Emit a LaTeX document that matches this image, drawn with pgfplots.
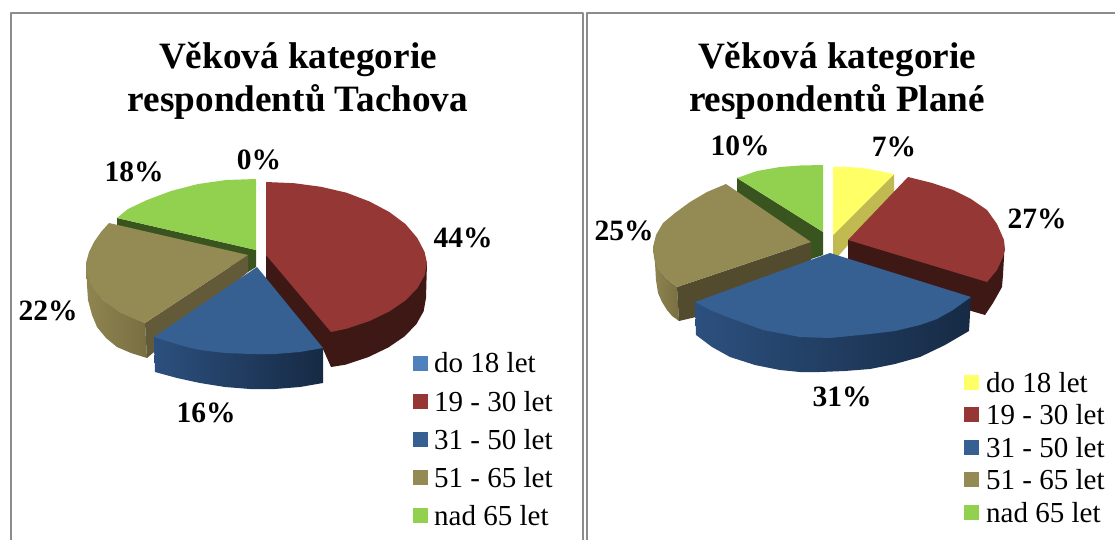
\documentclass[border=0pt]{standalone}
\usepackage{fontspec}
\setmainfont{Liberation Serif}
\usepackage{pgfplots}
\pgfplotsset{compat=1.18}
\definecolor{gT}{HTML}{92D050}\definecolor{gW}{HTML}{3A5420}
\definecolor{tT}{HTML}{948A54}\definecolor{tWa}{HTML}{625A38}\definecolor{tWb}{HTML}{534B2D}
\definecolor{tSa}{HTML}{8F8550}\definecolor{tSb}{HTML}{786E42}
\definecolor{bT}{HTML}{366092}\definecolor{bSa}{HTML}{2C507E}\definecolor{bSb}{HTML}{162A44}
\definecolor{rT}{HTML}{953735}\definecolor{rW}{HTML}{3E1815}
\definecolor{yT}{HTML}{FFFF66}\definecolor{yW}{HTML}{C0BA50}
\definecolor{bL}{HTML}{4F81BD}\definecolor{frm}{HTML}{8C8C8C}
\newcommand{\ttl}{\fontsize{37.2pt}{43pt}\selectfont\bfseries}
\newcommand{\lab}{\fontsize{29.5pt}{31pt}\selectfont\bfseries}
\newcommand{\leg}{\fontsize{29pt}{31pt}\selectfont}
\begin{document}
\begin{tikzpicture}
\begin{axis}[scale only axis,width=1115pt,height=540pt,xmin=0,xmax=1115,ymin=0,ymax=540,y dir=reverse,
  hide axis,
  every axis plot/.append style={draw=none,mark=none,line join=round}]
% keeps the page at the full extent of the axis
\addplot[draw=none] coordinates {(0,0)(1115,540)};
% frames
\addplot[draw=frm,line width=2pt] coordinates {(11,540)(11,13)(583,13)(583,540)};
\addplot[draw=frm,line width=2pt] coordinates {(587,540)(587,13)(1115,13)};
%%% LEFT PIE
\addplot[fill=gW] coordinates {(117,218)(256,250)(256,267)(248,272)(117,235)} --cycle;
\addplot[fill=gT] coordinates {(256,250)(256,179)(226,180)(198,184)(171,191)(147,200)(128,209)(117,218)} --cycle;
\addplot[shade,left color=tSa,right color=tSb] coordinates {(86,263)(87,285)(88,300)(92,315)(97,327)(106,338)(117,347)(131,353)(147,358)(145,323)(120,312)(102,299)} --cycle;
\addplot[fill=tWa] coordinates {(248,255)(248,272)(147,358)(145,323)} --cycle;
\addplot[fill=tT] coordinates {(248,255)(109,223)(101,232)(94,242)(89,252)(86,263)(87,272)(90,282)(95,291)(102,299)(111,306)(120,312)(132,318)(145,323)} --cycle;
\addplot[fill=rW] coordinates {(266,255)(427,262)(426,298)(423.6,311.4)(416.3,324.3)(404.4,336.5)(388.3,347.5)(368.5,357)(345.5,364.7)(331,367)(323,349)(318,355)(266,279)} --cycle;
\addplot[fill=rT] coordinates {(266,255)(266,182)(294,183.2)(321,186.8)(346.5,192.7)(369.5,201.5)(389.3,212)(405.4,224)(417.3,238)(424.6,252)(427,263)(424.6,275.4)(417.3,288.3)(405.4,300.5)(389.3,311.5)(369.5,321)(346.5,328.7)(331,332)} --cycle;
\addplot[shade,left color=bSa,right color=bSb] coordinates {(154,337)(323,348)(323,383)(300,387)(275,389)(250,389)(225,387)(200,383)(177,378)(155,372)} --cycle;
\addplot[fill=bT] coordinates {(257,267)(154,337)(173,343)(187,347)(200,350)(225,353)(250,354)(275,354)(300,352)(323,348)} --cycle;
%%% RIGHT PIE
\addplot[fill=gW] coordinates {(737,178)(823,232)(823,255)(811,259)(737,200)} --cycle;
\addplot[fill=gT] coordinates {(823,232)(823,165)(800,165.5)(780,167)(757,171)(737,178)} --cycle;
\addplot[fill=yW] coordinates {(833,235)(894,174)(894,193)(833,262)} --cycle;
\addplot[fill=yT] coordinates {(833,235)(833,167)(848,167)(863,168)(879,171)(894,174)} --cycle;
\addplot[shade,left color=tSa,right color=tSb] coordinates {(653,247)(655,263)(656,280)(658,293)(662,302)(667,310)(672,316)(679,321)(677,287)(666,278)(658,268)} --cycle;
\addplot[fill=tWb] coordinates {(811,242)(811,290)(679,321)(677,287)} --cycle;
\addplot[fill=tT] coordinates {(811,242)(726,184)(707,192)(690,202)(675,213)(663,223)(656,235)(653,247)(654,258)(658,268)(666,278)(677,287)} --cycle;
\addplot[fill=rW] coordinates {(848,240)(1004,245)(1004,257)(1003,275)(1002,287)(993,303)(985,315)(848,275)} --cycle;
\addplot[fill=rT] coordinates {(848,240)(908,177)(932,183)(953,190)(971,199)(987,210)(997,224)(1004,240)(1005,250)(1003,257)(997,270)(987,282)} --cycle;
\addplot[shade,left color=bSa,middle color=bSb!85!bSa,right color=bSb] coordinates {(695,302)(696,335)(712,347)(730,357)(755,365)(780,370)(800,372)(820,372)(845,371)(870,369)(895,364)(920,357)(945,345)(969,331)(971,297)} --cycle;
\addplot[fill=bT] coordinates {(830,253)(695,302)(712,311)(730,318)(763,330)(800,337)(830,338)(870,334)(895,331)(920,325)(937,319)(953,310)(971,297)} --cycle;
%%% LEGEND SWATCHES
\addplot[fill=bL] coordinates {(413,356)(428,356)(428,371)(413,371)} --cycle;
\addplot[fill=rT] coordinates {(413,394)(428,394)(428,409)(413,409)} --cycle;
\addplot[fill=bT] coordinates {(413,432)(428,432)(428,447)(413,447)} --cycle;
\addplot[fill=tT] coordinates {(413,470)(428,470)(428,485)(413,485)} --cycle;
\addplot[fill=gT] coordinates {(413,508)(428,508)(428,523)(413,523)} --cycle;
\addplot[fill=yT] coordinates {(964,375)(979,375)(979,390)(964,390)} --cycle;
\addplot[fill=rT] coordinates {(964,407)(979,407)(979,422)(964,422)} --cycle;
\addplot[fill=bT] coordinates {(964,440)(979,440)(979,455)(964,455)} --cycle;
\addplot[fill=tT] coordinates {(964,472)(979,472)(979,487)(964,487)} --cycle;
\addplot[fill=gT] coordinates {(964,505)(979,505)(979,520)(964,520)} --cycle;
% titles
\node[anchor=base,inner sep=0pt,font=\ttl] at (axis cs:298,69) {Věková kategorie};
\node[anchor=base,inner sep=0pt,font=\ttl] at (axis cs:298,112) {respondentů Tachova};
\node[anchor=base,inner sep=0pt,font=\ttl] at (axis cs:837,69) {Věková kategorie};
\node[anchor=base,inner sep=0pt,font=\ttl] at (axis cs:837,112) {respondentů Plané};
% data labels
\foreach \x/\y/\t in {259/169/0\%,134/182/18\%,48/320/22\%,206/422/16\%,463/247/44\%,740/156/10\%,894/157/7\%,1037/228/27\%,624/240/25\%,842/406/31\%}{
  \edef\tmp{\noexpand\node[anchor=base,inner sep=0pt,font=\noexpand\lab] at (axis cs:\x,\y) {\t};}\tmp
}
% legend text
\foreach \x/\y/\t in {434/372/do 18 let,434/411/19 - 30 let,434/449/31 - 50 let,434/487/51 - 65 let,434/525/nad 65 let,986/392/do 18 let,986/424/19 - 30 let,986/457/31 - 50 let,986/489/51 - 65 let,986/522/nad 65 let}{
  \edef\tmp{\noexpand\node[anchor=base west,inner sep=0pt,font=\noexpand\leg] at (axis cs:\x,\y) {\t};}\tmp
}
\end{axis}
\end{tikzpicture}
\end{document}
